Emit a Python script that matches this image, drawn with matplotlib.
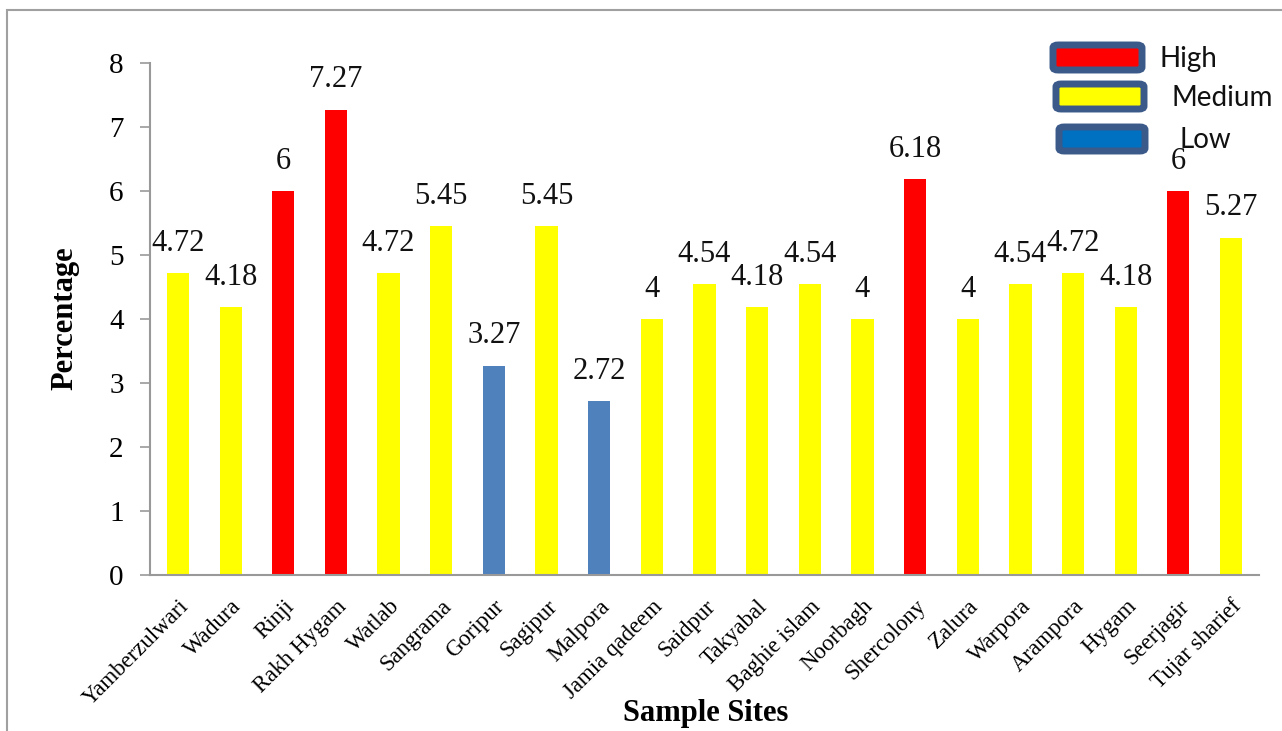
import matplotlib
matplotlib.use("Agg")
import matplotlib.pyplot as plt
from matplotlib.patches import FancyBboxPatch, Rectangle

sites = ["Yamberzulwari", "Wadura", "Rinji", "Rakh Hygam", "Watlab", "Sangrama",
         "Goripur", "Sagipur", "Malpora", "Jamia qadeem", "Saidpur", "Takyabal",
         "Baghie islam", "Noorbagh", "Shercolony", "Zalura", "Warpora", "Arampora",
         "Hygam", "Seerjagir", "Tujar sharief"]
values = [4.72, 4.18, 6, 7.27, 4.72, 5.45, 3.27, 5.45, 2.72, 4, 4.54, 4.18,
          4.54, 4, 6.18, 4, 4.54, 4.72, 4.18, 6, 5.27]
levels = ["Medium", "Medium", "High", "High", "Medium", "Medium", "Low", "Medium",
          "Low", "Medium", "Medium", "Medium", "Medium", "Medium", "High", "Medium",
          "Medium", "Medium", "Medium", "High", "Medium"]
value_labels = ["4.72", "4.18", "6", "7.27", "4.72", "5.45", "3.27", "5.45", "2.72",
                "4", "4.54", "4.18", "4.54", "4", "6.18", "4", "4.54", "4.72",
                "4.18", "6", "5.27"]
yticks = [0, 1, 2, 3, 4, 5, 6, 7, 8]
legend_names = ["High", "Medium", "Low"]

bar_colors = {"High": "#FF0000", "Medium": "#FFFF00", "Low": "#4F81BD"}
legend_colors = {"High": "#FF0000", "Medium": "#FFFF00", "Low": "#0070C0"}

serif = ["Liberation Serif", "DejaVu Serif"]
plt.rcParams["font.family"] = serif

fig = plt.figure(figsize=(12.82, 7.31), dpi=100)
W, H = 1282, 731
ax = fig.add_axes([150 / W, 1 - 575 / H, (1259 - 150) / W, (575 - 63) / H])

x = list(range(len(sites)))
ax.bar(x, values, width=0.42, color=[bar_colors[l] for l in levels], zorder=2)

for xi, v, lab in zip(x, values, value_labels):
    ax.annotate(lab, (xi, v), xytext=(0, 11), textcoords="offset points",
                ha="center", va="bottom", fontsize=22, family=serif, color="#111111")

ax.set_xlim(-0.53, len(sites) - 0.47)
ax.set_ylim(0, 8)
ax.set_yticks(yticks)
ax.set_yticklabels([str(t) for t in yticks], fontsize=21, family=serif)
ax.set_xticks(x)
ax.set_xticklabels(sites, rotation=45, ha="right", rotation_mode="anchor",
                   fontsize=16.5, family=serif)
ax.tick_params(axis="x", length=0, pad=15)
ax.tick_params(axis="y", length=7, width=1.2, color="#999999", pad=12, direction="out")

for s in ["top", "right"]:
    ax.spines[s].set_visible(False)
for s in ["left", "bottom"]:
    ax.spines[s].set_color("#999999")
    ax.spines[s].set_linewidth(1.5)

fig.text(65 / W, 1 - 318 / H, "Percentage", rotation=90, ha="center", va="center",
         fontsize=22, fontweight="bold", family=serif)
fig.text(706 / W, 1 - 713 / H, "Sample Sites", ha="center", va="center",
         fontsize=22, fontweight="bold", family=serif)

# outer frame
fig.patches.append(Rectangle((7 / W, -0.05), 1.2, 1 - 10 / H + 0.05,
                             transform=fig.transFigure, fill=False,
                             edgecolor="#A0A0A0", linewidth=1.5))

# custom legend
leg_boxes = [(1053, 45, 89, 25), (1056, 84, 88, 25), (1059, 127, 86, 24)]
leg_text_x = [1160, 1172, 1180]
for name, (bx, by, bw, bh), tx in zip(legend_names, leg_boxes, leg_text_x):
    fig.patches.append(FancyBboxPatch((bx / W, 1 - (by + bh) / H), bw / W, bh / H,
                                      boxstyle="round,pad=0,rounding_size=0.004",
                                      transform=fig.transFigure,
                                      facecolor=legend_colors[name],
                                      edgecolor="#3B5A8A", linewidth=5, zorder=5))
    fig.text(tx / W, 1 - (by + bh / 2 + 1) / H, name, ha="left", va="center",
             fontsize=20, family=["Lato", "DejaVu Sans"], color="#111111", zorder=6)

fig.savefig("out.png", dpi=100)
